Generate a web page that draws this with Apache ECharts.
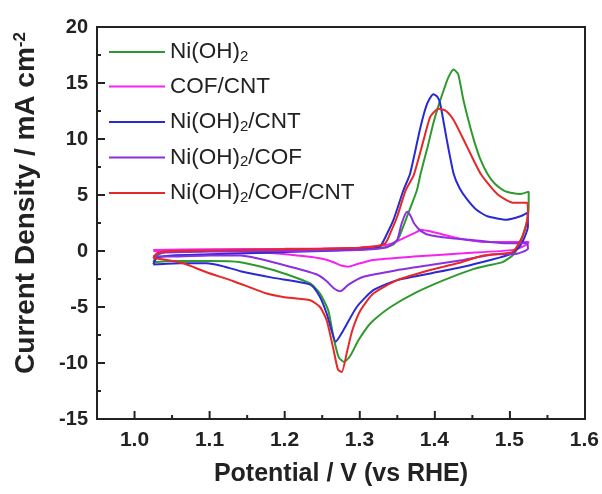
<!DOCTYPE html>
<html>
<head>
<meta charset="utf-8">
<script src="https://cdn.jsdelivr.net/npm/echarts@6/dist/echarts.min.js"></script>
<style>html,body{margin:0;padding:0;background:#fff}#c{width:602px;height:494px}</style>
</head>
<body>
<div id="c"></div>
<script>
var seriesNames = ['Ni(OH)2', 'COF/CNT', 'Ni(OH)2/CNT', 'Ni(OH)2/COF', 'Ni(OH)2/COF/CNT'];
var seriesColors = ['#2e9a2e', '#f622f0', '#2a2ad2', '#8a30e0', '#e62828'];
var xRange = [0.95, 1.6];      // full potential range of the plot
var xLabelRange = [1.0, 1.6];  // labelled major ticks, every 0.1 V
var yRange = [-15, 20];
var xMajorTicks = [1.0, 1.1, 1.2, 1.3, 1.4, 1.5, 1.6];
var xMinorTicks = [1.05, 1.15, 1.25, 1.35, 1.45, 1.55];
var yMajorTicks = [-10, -5, 0, 5, 10, 15];
var yMinorTicks = [-12.5, -7.5, -2.5, 2.5, 7.5, 12.5, 17.5];

// Ni(OH)2 (green)
var niOH2 = [
 [1.025,-1.0],[1.03,-0.4],[1.04,-0.1],[1.08,0.0],[1.15,0.05],[1.2,0.1],[1.25,0.1],[1.3,0.15],[1.33,0.3],[1.345,0.6],
 [1.352,1.2],[1.363,3.1],[1.376,5.4],[1.381,6.9],[1.39,9.2],[1.398,11.4],[1.405,13.0],[1.412,14.4],[1.418,15.5],[1.425,16.2],
 [1.431,15.8],[1.438,13.5],[1.445,11.6],[1.452,9.9],[1.46,8.3],[1.47,6.9],[1.48,6.0],[1.492,5.4],[1.505,5.15],[1.514,5.1],[1.525,5.3],
 [1.525,4.2],[1.524,3.1],[1.52,2.0],[1.514,0.8],[1.505,-0.3],[1.49,-1.0],[1.47,-1.3],[1.452,-1.6],[1.412,-2.6],[1.372,-3.8],[1.341,-5.0],
 [1.318,-6.2],[1.31,-6.8],[1.298,-8.0],[1.287,-9.4],[1.279,-9.9],[1.272,-9.5],[1.265,-7.7],[1.258,-5.3],[1.247,-3.8],[1.234,-2.9],
 [1.185,-1.7],[1.141,-1.0],[1.1,-0.9],[1.05,-0.9],[1.025,-1.0]
];
// COF/CNT (magenta)
var cofCNT = [
 [1.025,0.1],[1.1,0.15],[1.2,0.2],[1.3,0.3],[1.34,0.6],[1.36,1.2],[1.376,1.7],[1.381,1.9],[1.39,1.8],[1.403,1.6],
 [1.434,1.1],[1.47,0.8],[1.514,0.8],[1.525,0.8],
 [1.523,0.6],[1.505,0.1],[1.438,-0.2],[1.372,-0.5],[1.318,-0.8],[1.295,-1.2],[1.285,-1.4],[1.275,-1.3],[1.265,-1.0],
 [1.25,-0.7],[1.23,-0.5],[1.185,-0.2],[1.14,-0.05],[1.08,0.0],[1.025,0.0]
];
// Ni(OH)2/CNT (blue)
var niCNT = [
 [1.025,-1.2],[1.03,-0.6],[1.05,-0.4],[1.1,-0.3],[1.15,-0.2],[1.2,-0.1],[1.25,0.0],[1.3,0.15],[1.315,0.2],[1.327,0.4],
 [1.336,1.5],[1.345,2.8],[1.358,5.4],[1.367,6.9],[1.381,11.1],[1.39,13.2],[1.398,14.0],[1.403,13.8],[1.407,13.2],[1.416,9.9],
 [1.425,6.9],[1.433,5.6],[1.443,4.6],[1.455,3.7],[1.47,3.1],[1.496,2.8],[1.514,3.1],[1.523,3.4],
 [1.524,2.2],[1.52,1.3],[1.513,0.4],[1.5,-0.3],[1.474,-0.8],[1.438,-1.4],[1.394,-2.0],[1.35,-2.6],[1.318,-3.5],[1.296,-5.0],
 [1.278,-7.1],[1.268,-8.1],[1.262,-7.0],[1.256,-5.6],[1.247,-4.1],[1.234,-3.0],[1.185,-2.4],[1.141,-1.8],[1.12,-1.4],
 [1.096,-1.1],[1.06,-1.1],[1.025,-1.2]
];
// Ni(OH)2/COF (purple)
var niCOF = [
 [1.025,-0.5],[1.035,-0.15],[1.1,-0.05],[1.2,0.0],[1.3,0.1],[1.335,0.3],[1.345,0.7],[1.35,1.0],[1.356,2.5],[1.363,3.5],
 [1.368,3.1],[1.372,2.5],[1.381,1.8],[1.394,1.4],[1.42,1.15],[1.447,1.0],[1.492,0.7],[1.523,0.7],
 [1.524,0.2],[1.505,-0.3],[1.483,-0.3],[1.438,-0.8],[1.394,-1.25],[1.35,-1.7],[1.305,-2.3],[1.285,-3.0],[1.274,-3.6],
 [1.265,-3.3],[1.256,-2.7],[1.243,-2.1],[1.207,-1.4],[1.163,-0.65],[1.141,-0.4],[1.1,-0.4],[1.05,-0.5],[1.025,-0.5]
];
// Ni(OH)2/COF/CNT (red)
var niCOFCNT = [
 [1.025,-0.65],[1.03,-0.2],[1.05,0.0],[1.1,0.05],[1.2,0.15],[1.25,0.2],[1.3,0.3],[1.32,0.4],[1.334,0.7],[1.342,1.8],
 [1.35,3.1],[1.361,5.4],[1.372,6.8],[1.385,9.9],[1.394,12.0],[1.405,12.7],[1.415,12.5],[1.425,11.7],[1.443,9.3],[1.461,6.9],
 [1.483,5.1],[1.505,4.3],[1.523,4.3],
 [1.524,3.4],[1.52,1.9],[1.512,0.7],[1.503,-0.1],[1.465,-0.4],[1.43,-1.1],[1.394,-1.7],[1.35,-2.6],[1.318,-3.8],[1.301,-5.3],
 [1.29,-7.1],[1.283,-9.0],[1.276,-10.8],[1.271,-10.6],[1.265,-8.8],[1.256,-6.2],[1.247,-5.0],[1.234,-4.4],[1.198,-4.1],
 [1.176,-3.8],[1.132,-2.7],[1.096,-1.9],[1.065,-1.1],[1.043,-0.8],[1.025,-0.65]
];
var allData = [niOH2, cofCNT, niCNT, niCOF, niCOFCNT];

// layout
var G = {left: 97, right: 17, top: 27, bottom: 75};
var plotW = 602 - G.left - G.right;
var pxPerV = plotW / (xRange[1] - xRange[0]);
var labelGridLeft = G.left + (xLabelRange[0] - xRange[0]) * pxPerV;

var chart = echarts.init(document.getElementById('c'), null, {renderer: 'canvas'});
var font = 'Arial, "Liberation Sans", Helvetica, sans-serif';
var series = seriesNames.map(function (n, i) {
  return {
    name: n, type: 'line', data: allData[i], symbol: 'none', smooth: 0.2,
    lineStyle: {width: 2, color: seriesColors[i]}, itemStyle: {color: seriesColors[i]},
    xAxisIndex: 0, yAxisIndex: 0, animation: false
  };
});

// inside tick marks on the bottom and left axes, placed through the axis scales
function xTickSeries(values, len) {
  return {
    type: 'custom', xAxisIndex: 0, yAxisIndex: 0, silent: true, clip: false, animation: false, z: 100,
    data: values.map(function (v) { return [v, yRange[0]]; }),
    renderItem: function (params, api) {
      var p = api.coord([api.value(0), api.value(1)]);
      return {type: 'line', z2: 100, shape: {x1: p[0], y1: p[1], x2: p[0], y2: p[1] - len},
        style: {stroke: '#222', lineWidth: 2, fill: null}};
    }
  };
}
function yTickSeries(values, len) {
  return {
    type: 'custom', xAxisIndex: 0, yAxisIndex: 0, silent: true, clip: false, animation: false, z: 100,
    data: values.map(function (v) { return [xRange[0], v]; }),
    renderItem: function (params, api) {
      var p = api.coord([api.value(0), api.value(1)]);
      return {type: 'line', z2: 100, shape: {x1: p[0], y1: p[1], x2: p[0] + len, y2: p[1]},
        style: {stroke: '#222', lineWidth: 2, fill: null}};
    }
  };
}
series.push(xTickSeries(xMajorTicks, 8), xTickSeries(xMinorTicks, 4),
            yTickSeries(yMajorTicks, 8), yTickSeries(yMinorTicks, 4));

chart.setOption({
  animation: false,
  grid: [
    {left: G.left, right: G.right, top: G.top, bottom: G.bottom, show: true, borderColor: '#222', borderWidth: 2, backgroundColor: 'transparent'},
    {left: labelGridLeft, right: G.right, top: G.top, bottom: G.bottom, show: false}
  ],
  legend: {
    orient: 'vertical', left: 104, top: 34, itemWidth: 56, itemHeight: 24, itemGap: 10.5,
    icon: 'path://M0,11 L56,11 L56,13 L0,13 Z',
    data: seriesNames,
    textStyle: {fontFamily: font, fontSize: 22.5, color: '#222', lineHeight: 24,
      rich: {s: {fontFamily: font, fontSize: 15, color: '#222', lineHeight: 24, verticalAlign: 'bottom', padding: [10, 0, 0, 0]}}},
    formatter: function (n) { return n.replace(/\)2/g, '){s|2}'); }
  },
  xAxis: [{
    gridIndex: 0, type: 'value', min: xRange[0], max: xRange[1], interval: 0.05,
    name: 'Potential / V (vs RHE)', nameLocation: 'middle', nameGap: 43,
    nameTextStyle: {fontFamily: font, fontSize: 25, fontWeight: 'bold', color: '#222'},
    axisLine: {show: true, onZero: false, lineStyle: {color: '#222', width: 2}},
    axisTick: {show: false}, axisLabel: {show: false}, splitLine: {show: false}
  }, {
    gridIndex: 1, type: 'value', min: xLabelRange[0], max: xLabelRange[1], interval: 0.1, position: 'bottom',
    axisLine: {show: false, onZero: false}, axisTick: {show: false},
    axisLabel: {show: true, margin: 11, fontFamily: font, fontSize: 21, fontWeight: 'bold', color: '#222',
      formatter: function (v) { return v.toFixed(1); }},
    splitLine: {show: false}
  }],
  yAxis: [{
    gridIndex: 0, type: 'value', min: yRange[0], max: yRange[1], interval: 5,
    name: 'Current Density / mA cm{p|-2}', nameLocation: 'middle', nameGap: 56,
    nameTextStyle: {fontFamily: font, fontSize: 28, fontWeight: 'bold', color: '#222', padding: [0, 0, 0, 40],
      rich: {p: {fontFamily: font, fontSize: 17, fontWeight: 'bold', color: '#222', verticalAlign: 'top', padding: [0, 0, 12, 0]}}},
    axisLine: {show: true, onZero: false, lineStyle: {color: '#222', width: 2}},
    axisTick: {show: false}, minorTick: {show: false},
    axisLabel: {show: true, margin: 9, fontFamily: font, fontSize: 20, fontWeight: 'bold', color: '#222'},
    splitLine: {show: false}
  }, {
    gridIndex: 1, type: 'value', min: yRange[0], max: yRange[1], show: false
  }],
  series: series
});
</script>
</body>
</html>
